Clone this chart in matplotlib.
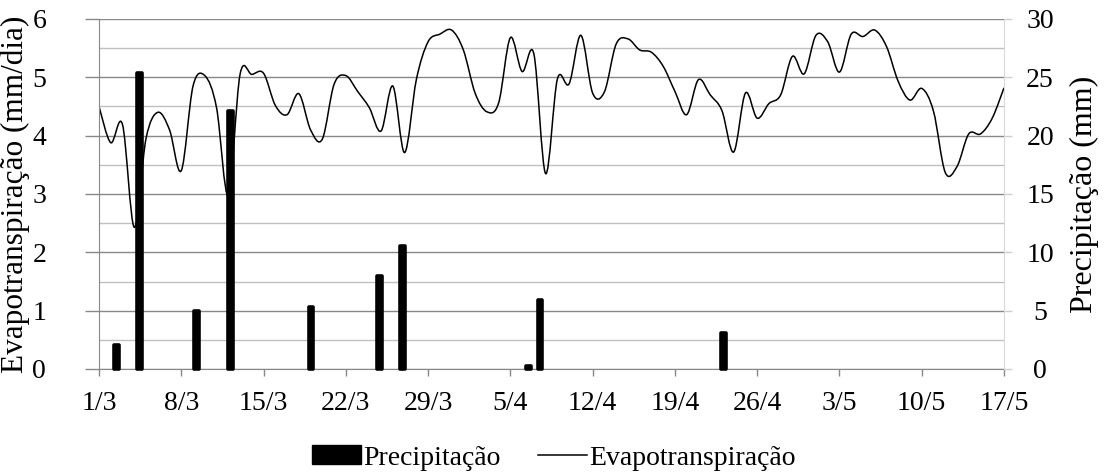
import numpy as np
import pandas as pd
import matplotlib
matplotlib.use("Agg")
import matplotlib.pyplot as plt
from matplotlib.path import Path
from matplotlib.patches import PathPatch
from matplotlib.lines import Line2D
from matplotlib.patches import Patch

plt.rcParams['font.family'] = ['Liberation Serif', 'DejaVu Serif']

# evapotranspiration, one value per day from 1/3 to 17/5 (mm/dia)
evapo = [4.50, 3.88, 4.19, 2.43, 3.95, 4.40, 4.10, 3.40, 4.85, 5.03,
         4.48, 2.98, 5.05, 5.05, 5.07, 4.52, 4.36, 4.72, 4.10, 3.94,
         4.88, 5.03, 4.76, 4.48, 4.08, 4.85, 3.71, 4.96, 5.61, 5.74,
         5.81, 5.47, 4.73, 4.41, 4.56, 5.68, 5.10, 5.40, 3.35, 4.97,
         4.89, 5.72, 4.73, 4.75, 5.57, 5.66, 5.47, 5.43, 5.19, 4.76,
         4.36, 4.96, 4.70, 4.43, 3.72, 4.73, 4.30, 4.55, 4.70, 5.36,
         5.06, 5.72, 5.61, 5.09, 5.74, 5.70, 5.81, 5.53, 4.93, 4.61,
         4.81, 4.42, 3.37, 3.47, 4.03, 4.03, 4.30, 4.82]

# precipitation events (mm)
prec_dates = ["2/3", "4/3", "9/3", "12/3", "19/3", "25/3", "27/3", "7/4", "8/4", "24/4"]
prec_mm = [2.1, 25.4, 5.0, 22.1, 5.3, 8.0, 10.5, 0.3, 5.9, 3.1]

tick_labels = ["1/3", "8/3", "15/3", "22/3", "29/3", "5/4", "12/4",
               "19/4", "26/4", "3/5", "10/5", "17/5"]

start = pd.Timestamp("2013-03-01")
prec_idx = [(pd.to_datetime(d + "/2013", format="%d/%m/%Y") - start).days for d in prec_dates]

fig = plt.figure(figsize=(11.11, 4.73), dpi=100)
rect = [99 / 1111, 1 - 369 / 473, 905 / 1111, 350 / 473]
ax = fig.add_axes(rect)

days = np.arange(len(evapo))
ax.set_xlim(0, len(evapo) - 1)
ax.set_ylim(0, 6)

# gridlines
ax.set_yticks(np.arange(0, 6.1, 1))
ax.set_yticks(np.arange(0.5, 6, 1), minor=True)
ax.grid(axis='y', which='major', color='#888888', lw=1.0)
ax.grid(axis='y', which='minor', color='#c0c0c0', lw=1.0)
ax.set_axisbelow(True)

# smoothed line (excel style) via bezier path through the points
pts = np.column_stack([days, evapo])
ext = np.vstack([pts[0], pts, pts[-1]])
verts = [pts[0]]
codes = [Path.MOVETO]
for i in range(len(pts) - 1):
    p0, p1, p2, p3 = ext[i], ext[i + 1], ext[i + 2], ext[i + 3]
    verts += [p1 + (p2 - p0) / 6, p2 - (p3 - p1) / 6, p2]
    codes += [Path.CURVE4] * 3
ax.add_patch(PathPatch(Path(verts, codes), fc='none', ec='black', lw=1.1))

ax.set_xticks(np.arange(0, len(evapo), 7))
ax.set_xticklabels(tick_labels)
ax.tick_params(axis='x', length=5, width=1, color='#888888', pad=11, labelsize=20)
ax.tick_params(axis='y', which='major', length=10, width=1, color='#888888', pad=28, labelsize=20)
ax.tick_params(axis='y', which='minor', length=0)
for s in ['top', 'right']:
    ax.spines[s].set_visible(False)
for s in ['left', 'bottom']:
    ax.spines[s].set_color('#888888')
ax.set_ylabel("Evapotranspiração (mm/dia)", fontsize=22.5)
ax.yaxis.set_label_coords(-0.076, 0.5)

# secondary axes for the bars (79 categories, as in the source chart)
ax2 = fig.add_axes(rect)
ax2.patch.set_visible(False)
ax2.set_xlim(0, 79)
ax2.set_ylim(0, 30)
ax2.bar(np.array(prec_idx) + 0.5, prec_mm, width=0.42, color='black',
        edgecolor='black', lw=2.6, joinstyle='round', clip_on=False)
ax2.set_xticks([])
ax2.yaxis.tick_right()
ax2.yaxis.set_label_position('right')
ax2.set_yticks(np.arange(0, 31, 5))
ax2.tick_params(axis='y', length=6, width=1, color='#d0d0d0', pad=20, labelsize=20)
for lbl in ax2.get_yticklabels():
    lbl.set_horizontalalignment('center')
for s in ['top', 'left', 'bottom']:
    ax2.spines[s].set_visible(False)
ax2.spines['right'].set_color('#d9d9d9')
ax2.set_ylabel("Precipitação (mm)", fontsize=23)
ax2.yaxis.set_label_coords(1.073, 0.5)

handles = [Patch(facecolor='black', edgecolor='black'),
           Line2D([], [], color='black', lw=1.1)]
fig.legend(handles, ["Precipitação", "Evapotranspiração"], loc='center',
           bbox_to_anchor=(554 / 1111, 1 - 458 / 473), ncol=2, frameon=False,
           fontsize=20, handlelength=1.75, handleheight=0.65, handletextpad=0.1,
           columnspacing=1.35)

fig.savefig("out.png", dpi=100)
